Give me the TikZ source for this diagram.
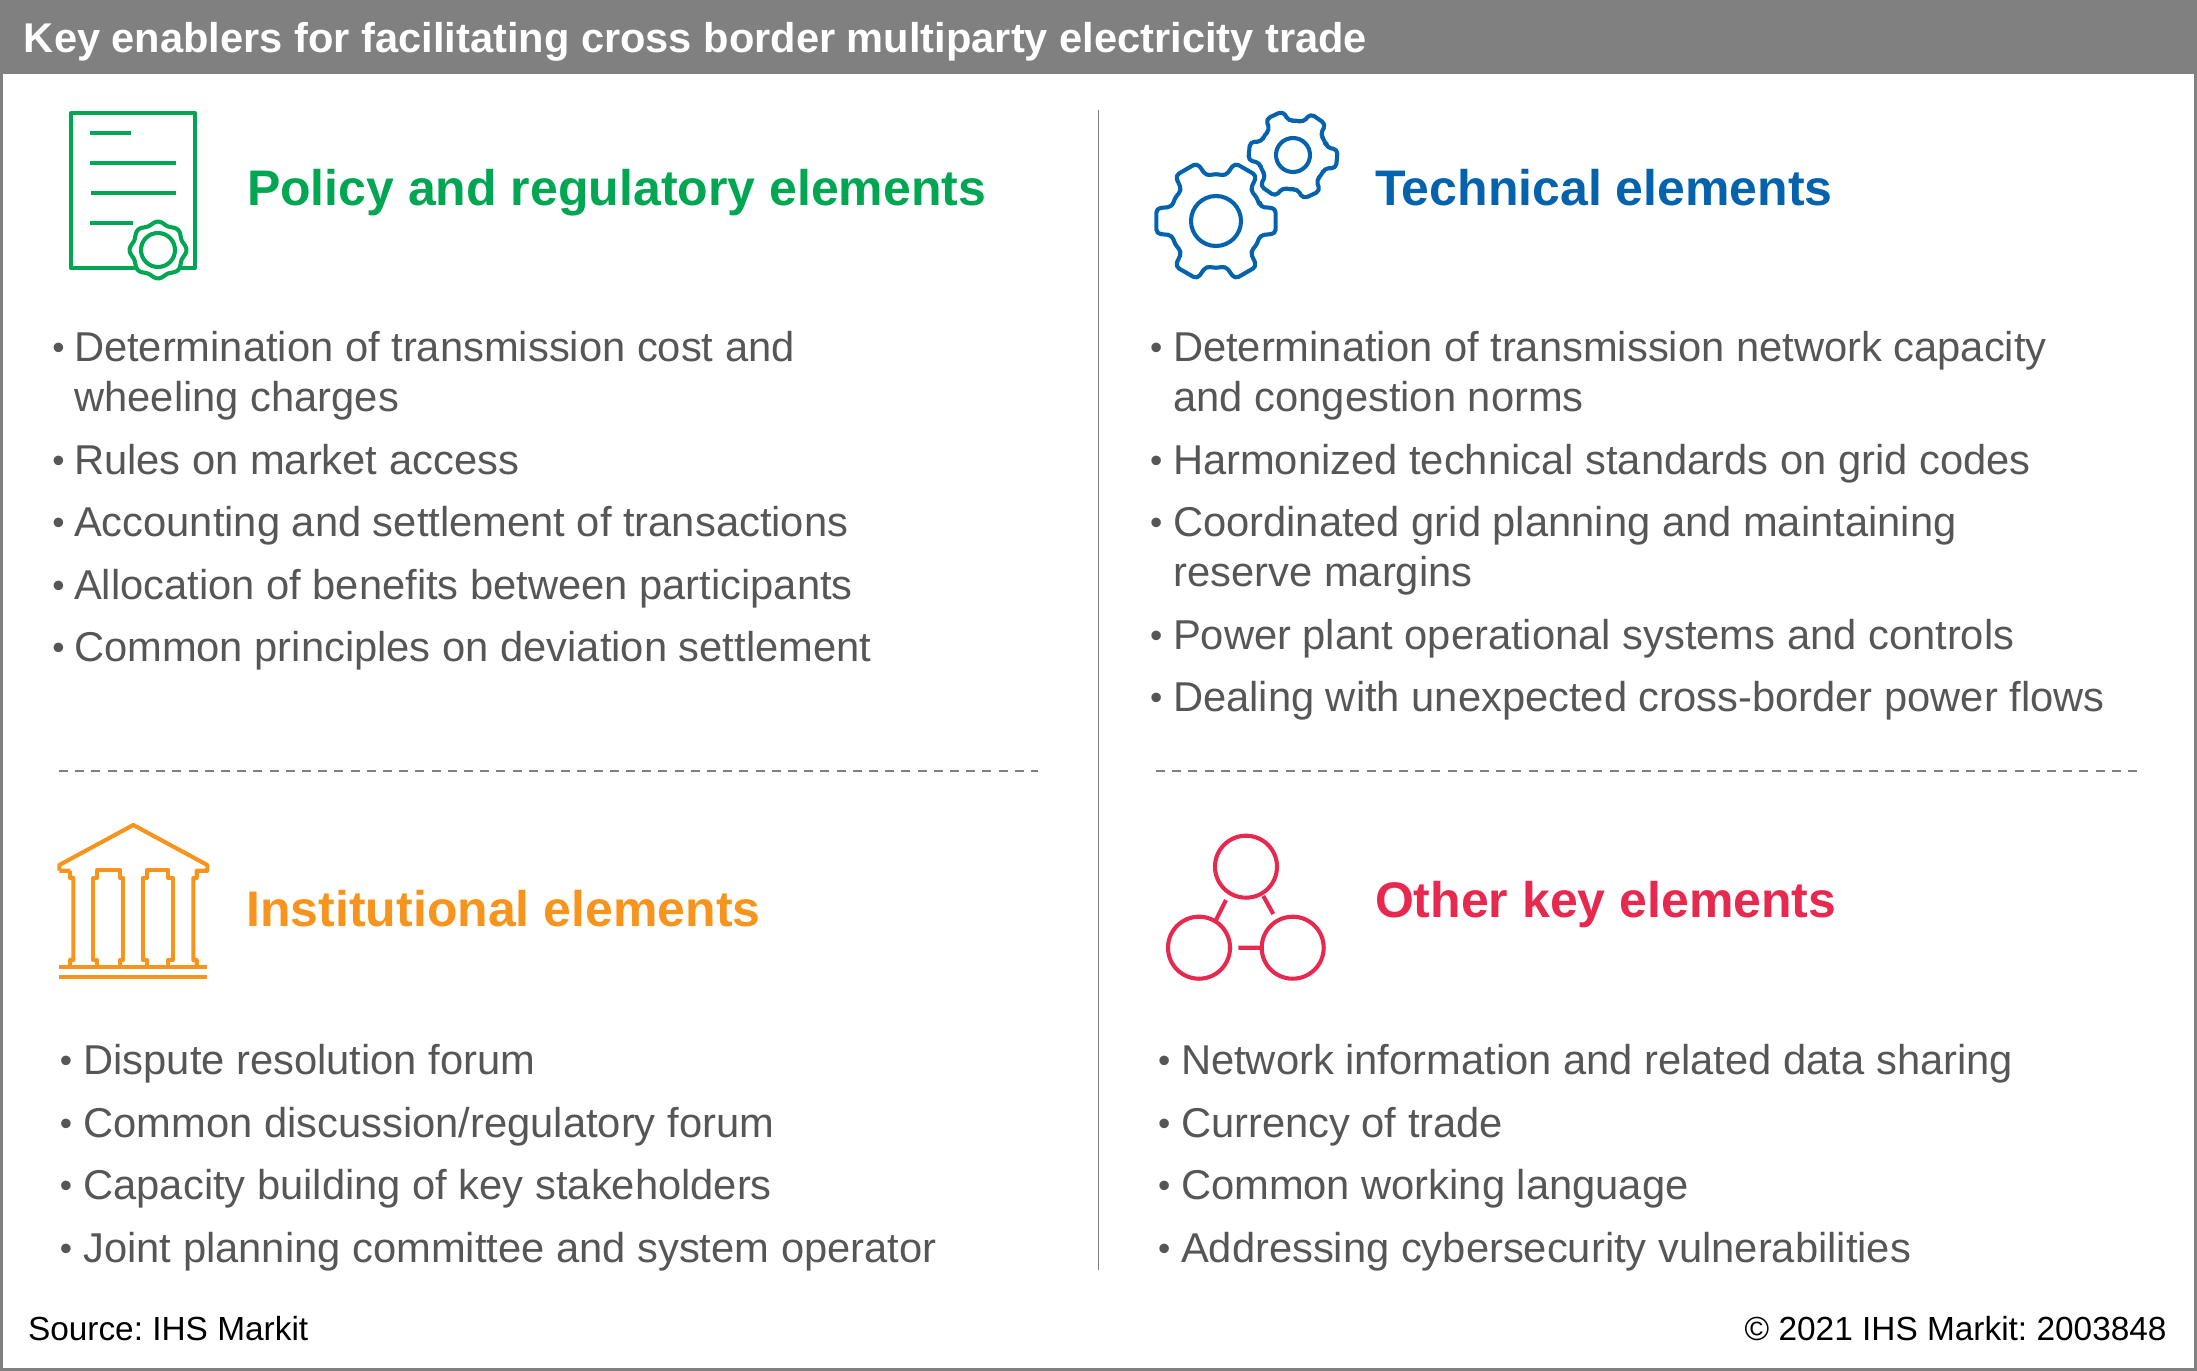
\documentclass[tikz,border=0pt]{standalone}
\usepackage{fontspec}
\setmainfont{Liberation Sans}
\definecolor{bandgrey}{HTML}{808080}
\definecolor{bodygrey}{HTML}{565656}
\definecolor{polgreen}{HTML}{00A651}
\definecolor{techblue}{HTML}{0563AE}
\definecolor{instorange}{HTML}{F7941D}
\definecolor{otherred}{HTML}{E7284F}
\tikzset{
  x=0.5pt,y=-0.5pt,
  txt/.style={anchor=base west,inner sep=0pt,outer sep=0pt},
  bodytxt/.style={txt,text=bodygrey,font=\fontsize{20.85}{24}\selectfont\frenchspacing},
  bullettxt/.style={txt,text=bodygrey,font=\fontsize{17.5}{20}\selectfont},
  heading/.style={txt,font=\fontsize{25}{28}\selectfont\bfseries},
  icon/.style={line width=2.05pt,line join=round},
  dashrule/.style={bandgrey,line width=0.8pt,dash pattern=on 4.5pt off 3.6pt},
}
\newcommand{\itm}[5]{%
  \node[bullettxt] (#1b) at (#2,#4-2) {•};
  \node[bodytxt] (#1) at (#3,#4) {#5};
}
\newcommand{\gearshape}[6]{% cx cy outer root rot holeR
  \draw[icon,techblue,rounded corners=2.2pt] (#1,#2)
    ++(#6-18:#4) \foreach \k in {0,60,...,300} {
      -- ([shift={(#1,#2)}]{#6+\k-18}:#4)
      -- ([shift={(#1,#2)}]{#6+\k-12}:#3)
      -- ([shift={(#1,#2)}]{#6+\k+12}:#3)
      -- ([shift={(#1,#2)}]{#6+\k+18}:#4)
      -- ([shift={(#1,#2)}]{#6+\k+30}:#4*1.03)
    } -- cycle;
}
\begin{document}
\begin{tikzpicture}
\useasboundingbox (0,0) rectangle (2197,1371);
% frame and title band
\draw[bandgrey,line width=1.5pt] (1.5,1.5) rectangle (2195.5,1369.5);
\fill[bandgrey] (0,0) rectangle (2197,74);
\node[txt,text=white,font=\fontsize{20.8}{24}\selectfont\bfseries\frenchspacing] (title) at (24,52) {Key enablers for facilitating cross border multiparty electricity trade};
% dividers
\draw[bandgrey,line width=0.8pt] (1098.5,110) -- (1098.5,1270);
\draw[dashrule] (59,771) -- (1038,771);
\draw[dashrule] (1156,771) -- (2137,771);
% policy icon
\draw[icon,polgreen] (71,113) rectangle (195,268);
\draw[icon,polgreen] (90,133) -- (131,133) (90,163) -- (176,163) (91,193) -- (176,193) (90,223) -- (133,223);
\fill[white] (158,250) circle (28);
\draw[icon,polgreen,fill=white] plot[domain=0:360,samples=120,smooth,variable=\t] ({158+(27+1.4*cos(8*\t))*cos(\t)},{250+(27+1.4*cos(8*\t))*sin(\t)}) -- cycle;
\draw[icon,polgreen] (158,250) circle (17);
% gears
\gearshape{1216}{221}{61}{46}{0}{0}
\draw[icon,techblue] (1216,221) circle (25);
\gearshape{1293}{155}{45}{34}{5}{5}
\draw[icon,techblue] (1293,155) circle (17);
% temple
\draw[icon,instorange] (59.3,870.7) -- (59.3,865) -- (133.3,825) -- (207.3,865) -- (207.3,870.7) -- (196.7,870.7) -- (196.7,878) -- (193.3,878) -- (193.3,960) -- (196.7,960) -- (196.7,966.7)
  (70,870.7) -- (59.3,870.7)
  (70,870.7) -- (70,878) -- (73.3,878) -- (73.3,960) -- (70,960) -- (70,966.7);
\draw[icon,instorange] (97,966.7) -- (97,960) -- (93.3,960) -- (93.3,878) -- (97,878) -- (97,870) -- (120,870) -- (120,878) -- (123.3,878) -- (123.3,960) -- (120,960) -- (120,966.7);
\draw[icon,instorange] (147,966.7) -- (147,960) -- (142.7,960) -- (142.7,878) -- (147,878) -- (147,870) -- (168.3,870) -- (168.3,878) -- (172.7,878) -- (172.7,960) -- (168.3,960) -- (168.3,966.7);
\draw[icon,instorange] (59.3,966.7) -- (207,966.7) (59.3,976.7) -- (207,976.7);
% network icon
\draw[icon,otherred] (1246,866.7) circle (31) (1199,947.7) circle (31) (1292.7,947.7) circle (31);
\draw[icon,otherred] (1226,900) -- (1216,920) (1263.3,896) -- (1273.3,914) (1238.3,947.7) -- (1261.7,947.7);
% headings
\node[heading,text=polgreen] (hpol) at (247,205) {Policy and regulatory elements};
\node[heading,text=techblue] (htech) at (1375,205) {Technical elements};
\node[heading,text=instorange] (hinst) at (246.5,926) {Institutional elements};
\node[heading,text=otherred] (hoth) at (1375,917) {Other key elements};
% lists
\itm{a1}{52.5}{74}{361}{Determination of transmission cost and}
\node[bodytxt] (a1x) at (74.5,411) {wheeling charges};
\itm{a2}{52.5}{74}{474}{Rules on market access}
\itm{a3}{52.5}{74}{536}{Accounting and settlement of transactions}
\itm{a4}{52.5}{74}{599}{Allocation of benefits between participants}
\itm{a5}{52.5}{74}{661}{Common principles on deviation settlement}
\itm{b1}{1150}{1173}{361}{Determination of transmission network capacity}
\node[bodytxt] (b1x) at (1173.5,411) {and congestion norms};
\itm{b2}{1150}{1173}{474}{Harmonized technical standards on grid codes}
\itm{b3}{1150}{1173}{536}{Coordinated grid planning and maintaining}
\node[bodytxt] (b3x) at (1173.5,586) {reserve margins};
\itm{b4}{1150}{1173}{649}{Power plant operational systems and controls}
\itm{b5}{1150}{1173}{711}{Dealing with unexpected cross-border power flows}
\itm{c1}{60}{83.5}{1074}{Dispute resolution forum}
\itm{c2}{60}{83.5}{1137}{Common discussion/regulatory forum}
\itm{c3}{60}{83.5}{1199}{Capacity building of key stakeholders}
\itm{c4}{60}{83.5}{1262}{Joint planning committee and system operator}
\itm{d1}{1158}{1181}{1074}{Network information and related data sharing}
\itm{d2}{1158}{1181}{1137}{Currency of trade}
\itm{d3}{1158}{1181}{1199}{Common working language}
\itm{d4}{1158}{1181}{1262}{Addressing cybersecurity vulnerabilities}
% footer
\node[txt,font=\fontsize{16.7}{20}\selectfont\frenchspacing] (src) at (28,1340) {Source: IHS Markit};
\node[anchor=base east,inner sep=0pt,font=\fontsize{16.7}{20}\selectfont\frenchspacing] (cpy) at (2167,1340) {© 2021 IHS Markit: 2003848};
\end{tikzpicture}
\end{document}
